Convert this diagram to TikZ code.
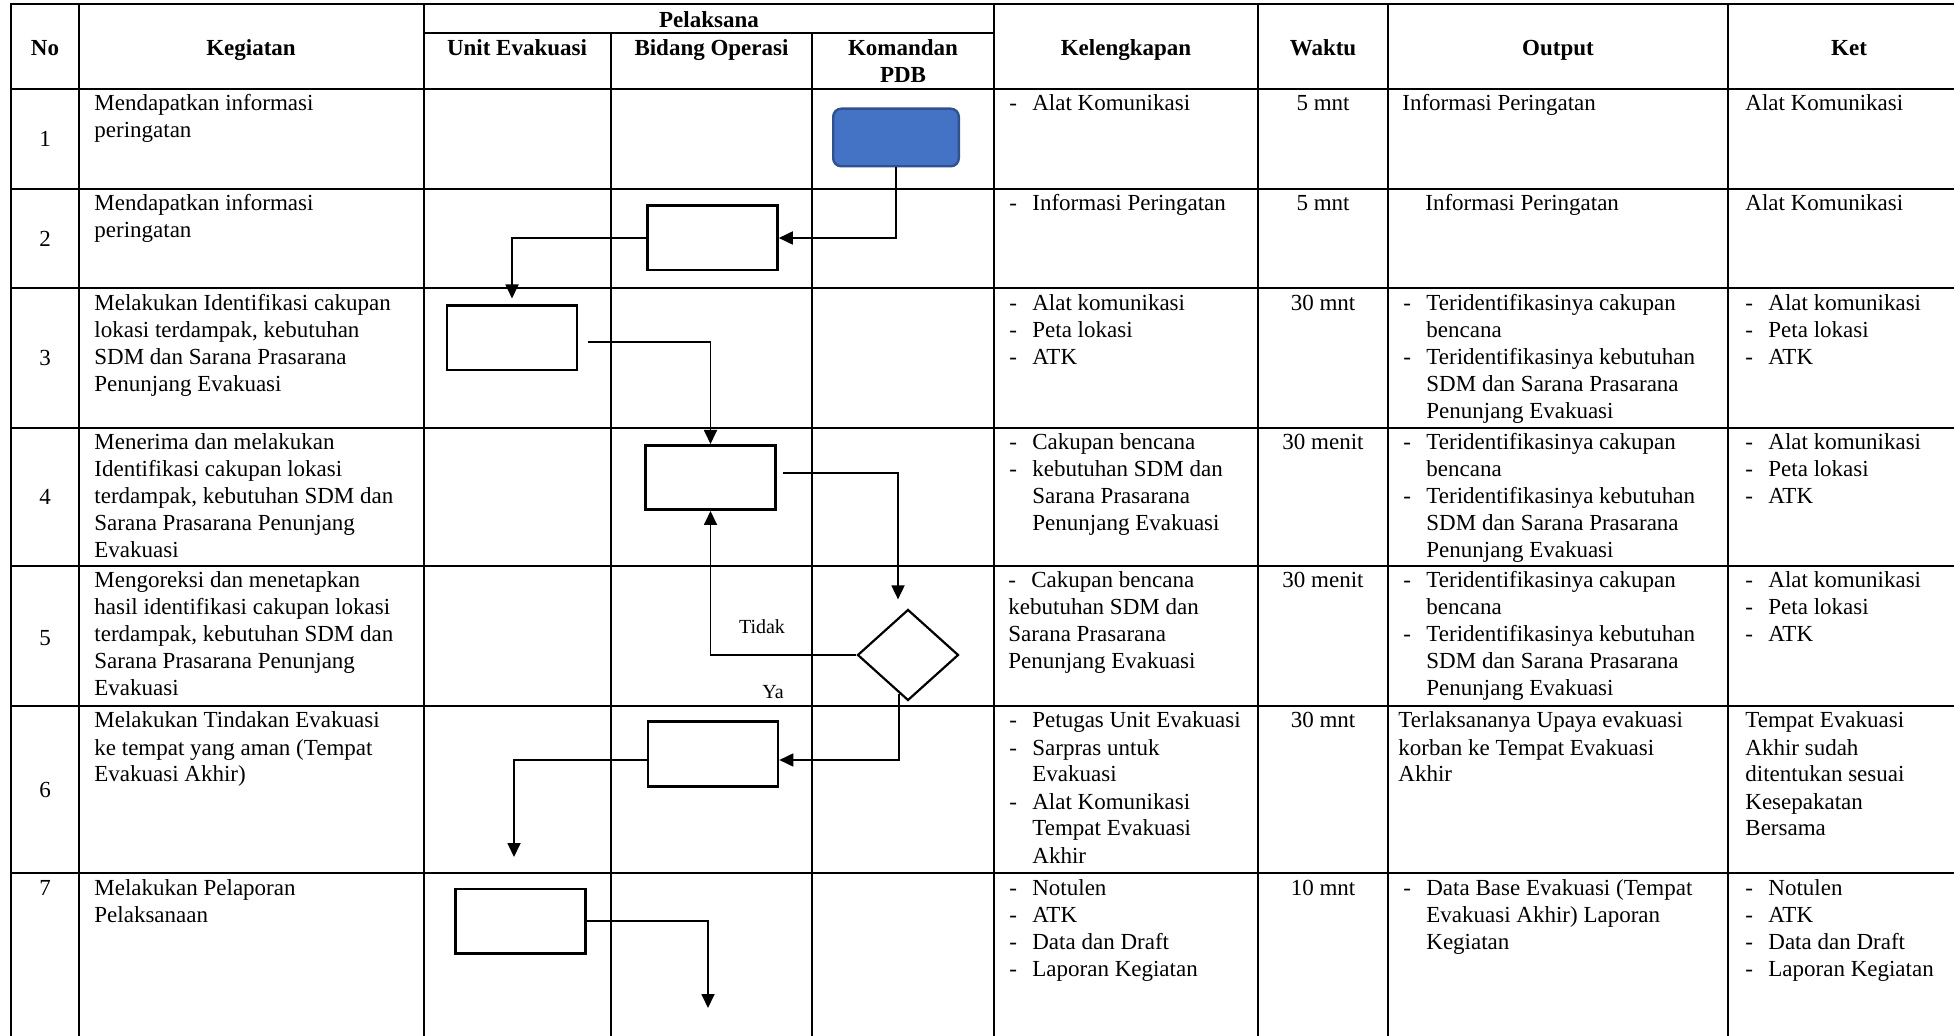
\documentclass[tikz,border=0pt]{standalone}
\usepackage{fontspec}
\setmainfont{Liberation Serif}
\usetikzlibrary{arrows.meta,shapes.geometric,calc}
\definecolor{startblue}{RGB}{68,114,196}
\definecolor{startedge}{RGB}{47,82,143}
\newcommand{\celltext}[1]{\begin{tabular}[t]{@{}l@{}}#1\end{tabular}}
\newcommand{\celllist}[1]{\begin{tabular}[t]{@{}p{11.5pt}@{}l@{}}#1\end{tabular}}

\begin{document}
\begin{tikzpicture}[x=0.5pt, y=-0.5pt,
  font=\fontsize{11.5}{13.5}\selectfont,
  grid/.style={line width=1pt},
  txt/.style={anchor=base west, inner sep=0pt},
  mid/.style={anchor=base, inner sep=0pt},
  num/.style={inner sep=0pt},
  hdr/.style={anchor=base, inner sep=0pt, font=\fontsize{11.5}{13.5}\selectfont\bfseries},
  startbox/.style={rectangle, draw=startedge, fill=startblue, rounded corners=4pt, line width=1.2pt, minimum width=62.8pt, minimum height=28.8pt},
  procbox/.style={rectangle, draw, line width=1.3pt, minimum width=65pt, minimum height=32.2pt},
  decision/.style={diamond, draw, line width=1.1pt, minimum width=50.5pt, minimum height=45.5pt, inner sep=0pt},
  flow/.style={-{Triangle[length=7pt,width=6.5pt]}, line width=0.9pt},
  lbl/.style={inner sep=0pt, font=\fontsize{10}{12}\selectfont}
]
\useasboundingbox (0,0) rectangle (1954,1036);

% table grid
\draw[line width=1.3pt] (11,1036) -- (11,4) -- (1954,4);
\draw[grid] (79,4) -- (79,1036);
\draw[grid] (423.5,4) -- (423.5,1036);
\draw[grid] (611,32.7) -- (611,1036);
\draw[grid] (812,32.7) -- (812,1036);
\draw[grid] (994,4) -- (994,1036);
\draw[grid] (1258,4) -- (1258,1036);
\draw[grid] (1388,4) -- (1388,1036);
\draw[grid] (1728,4) -- (1728,1036);
\draw[grid] (423.5,32.7) -- (994,32.7);
\foreach \y in {88.7,189,288.3,427.7,566,706,873}
  \draw[grid] (11,\y) -- (1954,\y);

% header
\node[hdr] (hno) at (45,55.6) {No};
\node[hdr] (hkeg) at (251,55.6) {Kegiatan};
\node[hdr] (hpel) at (709,27.6) {Pelaksana};
\node[hdr] (hunit) at (517,55.6) {Unit Evakuasi};
\node[hdr] (hbid) at (711.5,55.6) {Bidang Operasi};
\node[hdr] (hkom) at (903,55.6) {\begin{tabular}[t]{@{}c@{}}Komandan\\PDB\end{tabular}};
\node[hdr] (hkel) at (1126,55.6) {Kelengkapan};
\node[hdr] (hwak) at (1323,55.6) {Waktu};
\node[hdr] (hout) at (1558,55.6) {Output};
\node[hdr] (hket) at (1849,55.6) {Ket};

% row numbers
\node[num] (n1) at (45,138.8) {1};
\node[num] (n2) at (45,238.7) {2};
\node[num] (n3) at (45,358) {3};
\node[num] (n4) at (45,497) {4};
\node[num] (n5) at (45,638) {5};
\node[num] (n6) at (45,789.5) {6};
\node[mid] (n7) at (45,895) {7};

% row 1
\node[txt] (k1) at (94,110.7) {\celltext{Mendapatkan informasi\\peringatan}};
\node[txt] (l1) at (1009,110.7) {\celllist{-&Alat Komunikasi}};
\node[mid] (w1) at (1323,110.7) {5 mnt};
\node[txt] (o1) at (1402,110.7) {Informasi Peringatan};
\node[txt] (c1) at (1745,110.7) {Alat Komunikasi};

% row 2
\node[txt] (k2) at (94,211) {\celltext{Mendapatkan informasi\\peringatan}};
\node[txt] (l2) at (1009,211) {\celllist{-&Informasi Peringatan}};
\node[mid] (w2) at (1323,211) {5 mnt};
\node[txt] (o2) at (1425,211) {Informasi Peringatan};
\node[txt] (c2) at (1745,211) {Alat Komunikasi};

% row 3
\node[txt] (k3) at (94,310.3) {\celltext{Melakukan Identifikasi cakupan\\lokasi terdampak, kebutuhan\\SDM dan Sarana Prasarana\\Penunjang Evakuasi}};
\node[txt] (l3) at (1009,310.3) {\celllist{-&Alat komunikasi\\-&Peta lokasi\\-&ATK}};
\node[mid] (w3) at (1323,310.3) {30 mnt};
\node[txt] (o3) at (1403,310.3) {\celllist{-&Teridentifikasinya cakupan\\&bencana\\-&Teridentifikasinya kebutuhan\\&SDM dan Sarana Prasarana\\&Penunjang Evakuasi}};
\node[txt] (c3) at (1745,310.3) {\celllist{-&Alat komunikasi\\-&Peta lokasi\\-&ATK}};

% row 4
\node[txt] (k4) at (94,449.7) {\celltext{Menerima dan melakukan\\Identifikasi cakupan lokasi\\terdampak, kebutuhan SDM dan\\Sarana Prasarana Penunjang\\Evakuasi}};
\node[txt] (l4) at (1009,449.7) {\celllist{-&Cakupan bencana\\-&kebutuhan SDM dan\\&Sarana Prasarana\\&Penunjang Evakuasi}};
\node[mid] (w4) at (1323,449.7) {30 menit};
\node[txt] (o4) at (1403,449.7) {\celllist{-&Teridentifikasinya cakupan\\&bencana\\-&Teridentifikasinya kebutuhan\\&SDM dan Sarana Prasarana\\&Penunjang Evakuasi}};
\node[txt] (c4) at (1745,449.7) {\celllist{-&Alat komunikasi\\-&Peta lokasi\\-&ATK}};

% row 5
\node[txt] (k5) at (94,588) {\celltext{Mengoreksi dan menetapkan\\hasil identifikasi cakupan lokasi\\terdampak, kebutuhan SDM dan\\Sarana Prasarana Penunjang\\Evakuasi}};
\node[txt] (l5) at (1008,588) {\celllist{-&Cakupan bencana\\\multicolumn{2}{@{}l@{}}{kebutuhan SDM dan}\\\multicolumn{2}{@{}l@{}}{Sarana Prasarana}\\\multicolumn{2}{@{}l@{}}{Penunjang Evakuasi}}};
\node[mid] (w5) at (1323,588) {30 menit};
\node[txt] (o5) at (1403,588) {\celllist{-&Teridentifikasinya cakupan\\&bencana\\-&Teridentifikasinya kebutuhan\\&SDM dan Sarana Prasarana\\&Penunjang Evakuasi}};
\node[txt] (c5) at (1745,588) {\celllist{-&Alat komunikasi\\-&Peta lokasi\\-&ATK}};

% row 6
\node[txt] (k6) at (94,728) {\celltext{Melakukan Tindakan Evakuasi\\ke tempat yang aman (Tempat\\Evakuasi Akhir)}};
\node[txt] (l6) at (1009,728) {\celllist{-&Petugas Unit Evakuasi\\-&Sarpras untuk\\&Evakuasi\\-&Alat Komunikasi\\&Tempat Evakuasi\\&Akhir}};
\node[mid] (w6) at (1323,728) {30 mnt};
\node[txt] (o6) at (1398,728) {\celltext{Terlaksananya Upaya evakuasi\\korban ke Tempat Evakuasi\\Akhir}};
\node[txt] (c6) at (1745,728) {\celltext{Tempat Evakuasi\\Akhir sudah\\ditentukan sesuai\\Kesepakatan\\Bersama}};

% row 7
\node[txt] (k7) at (94,895) {\celltext{Melakukan Pelaporan\\Pelaksanaan}};
\node[txt] (l7) at (1009,895) {\celllist{-&Notulen\\-&ATK\\-&Data dan Draft\\-&Laporan Kegiatan}};
\node[mid] (w7) at (1323,895) {10 mnt};
\node[txt] (o7) at (1403,895) {\celllist{-&Data Base Evakuasi (Tempat\\&Evakuasi Akhir) Laporan\\&Kegiatan}};
\node[txt] (c7) at (1745,895) {\celllist{-&Notulen\\-&ATK\\-&Data dan Draft\\-&Laporan Kegiatan}};

% flow shapes
\node[startbox] (start) at (896,137.5) {};
\node[procbox] (b2) at (712.5,238) {};
\node[procbox] (b3) at (512,338) {};
\node[procbox] (b4) at (710.5,477.5) {};
\node[decision] (dm) at (908,655) {};
\node[procbox] (b6) at (713,754) {};
\node[procbox] (b7) at (520.5,921) {};

\coordinate (dmin) at ($(dm.north)+(-10,-9)$);
\coordinate (dmout) at ($(dm.south)+(-9,-8)$);
\coordinate (e6) at (514,857);
\coordinate (e7) at (708,1008);

% connectors
\draw[flow] (start.south) |- (b2.east);
\draw[flow, shorten >=3pt] (b2.west) -| (b3.north);
\draw[flow] ([shift={(5pt,-2pt)}]b3.east) -| (b4.north);
\draw[flow] ([shift={(3pt,2.4pt)}]b4.east) -| (dmin);
\draw[flow] (dm.west) -| (b4.south);
\draw[flow] (dmout) |- ([yshift=-3pt]b6.east);
\draw[flow] ([yshift=-3pt]b6.west) -| (e6);
\draw[flow] (b7.east) -| (e7);

\node[lbl] (tidak) at (762,627) {Tidak};
\node[lbl] (ya) at (773,692) {Ya};
\end{tikzpicture}
\end{document}
